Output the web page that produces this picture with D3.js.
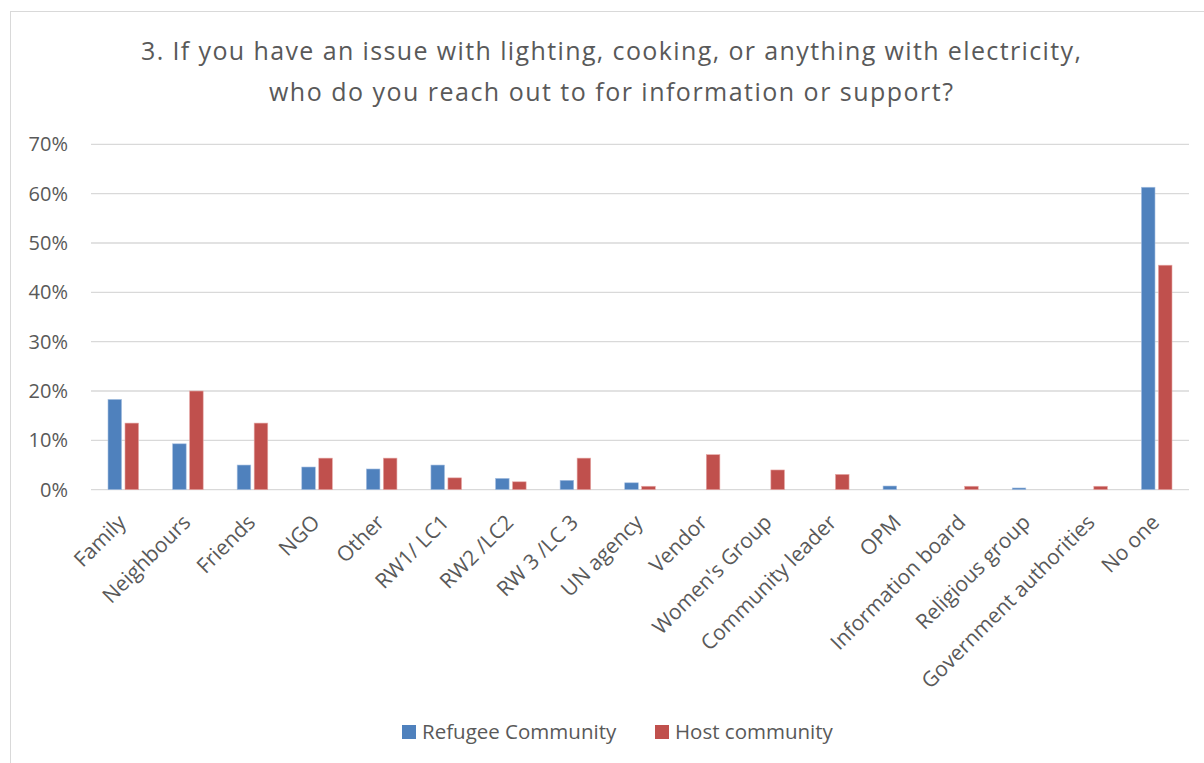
<!DOCTYPE html>
<html>
<head>
<meta charset="utf-8">
<script src="https://cdn.jsdelivr.net/npm/d3@7"></script>
<style>
  html, body { margin: 0; padding: 0; background: #ffffff; }
  svg { display: block; }
</style>
</head>
<body>
<svg id="chart" width="1204" height="763"></svg>
<script>
// Survey question 3: sources of help for electricity issues
const categories = [
  "Family", "Neighbours", "Friends", "NGO", "Other", "RW1/ LC1", "RW2 /LC2",
  "RW 3 /LC 3", "UN agency", "Vendor", "Women's Group", "Community leader",
  "OPM", "Information board", "Religious group", "Government authorities", "No one"
];
const refugeeValues = [18.3, 9.3, 5.0, 4.6, 4.2, 5.0, 2.3, 1.9, 1.4, 0, 0, 0, 0.75, 0, 0.35, 0, 61.3];
const hostValues    = [13.5, 20.0, 13.5, 6.4, 6.4, 2.4, 1.6, 6.4, 0.7, 7.1, 4.0, 3.1, 0, 0.7, 0, 0.7, 45.5];
const seriesNames = ["Refugee Community", "Host community"];
const seriesColors = ["#4F81BD", "#C0504D"];
const yTicks = [0, 10, 20, 30, 40, 50, 60, 70];
const titleLines = [
  "3. If you have an issue with lighting, cooking, or anything with electricity,",
  "who do you reach out to for information or support?"
];

const svg = d3.select("#chart");
const W = 1204, H = 763;
const plot = { left: 91, right: 1189, top: 144.3, bottom: 489.7 };
const FONT = "'Open Sans', sans-serif";

// chart frame
svg.append("rect")
  .attr("x", 10.5).attr("y", 11.5)
  .attr("width", W).attr("height", H)
  .attr("fill", "#fff").attr("stroke", "#d9d9d9").attr("stroke-width", 1);

// title, two centred lines spread to the title block width
const titleSpecs = [
  { y: 60, len: 940 },
  { y: 101, len: 684 }
];
titleLines.forEach((t, i) => {
  svg.append("text")
    .attr("x", 611).attr("y", titleSpecs[i].y)
    .attr("text-anchor", "middle")
    .attr("fill", "#595959")
    .attr("textLength", titleSpecs[i].len)
    .attr("lengthAdjust", "spacing")
    .style("font-family", FONT)
    .style("font-size", "25px")
    .text(t);
});

const x = d3.scaleBand().domain(categories).range([plot.left, plot.right]).paddingInner(0).paddingOuter(0);
const y = d3.scaleLinear().domain([0, 70]).range([plot.bottom, plot.top]);
const xSub = d3.scaleBand().domain(seriesNames).range([0, x.bandwidth()]).paddingInner(0.2).paddingOuter(1.0);

// gridlines
svg.append("g")
  .selectAll("line")
  .data(yTicks)
  .join("line")
  .attr("x1", plot.left).attr("x2", plot.right)
  .attr("y1", d => y(d)).attr("y2", d => y(d))
  .attr("stroke", "#d9d9d9").attr("stroke-width", 1.3);

// y axis labels
const yAxis = d3.axisLeft(y).tickValues(yTicks).tickFormat(d => d + "%").tickSize(0).tickPadding(0);
const yG = svg.append("g").attr("transform", `translate(68,0)`).call(yAxis);
yG.select(".domain").remove();
yG.selectAll("text")
  .attr("fill", "#595959")
  .style("font-family", FONT)
  .style("font-size", "20px");

// bars
const rows = categories.map((c, i) => ({ cat: c, vals: [refugeeValues[i], hostValues[i]] }));
const groups = svg.append("g").selectAll("g")
  .data(rows)
  .join("g")
  .attr("transform", d => `translate(${x(d.cat)},0)`);
groups.selectAll("rect")
  .data(d => d.vals.map((v, k) => ({ v, k })))
  .join("rect")
  .attr("x", d => xSub(seriesNames[d.k]))
  .attr("width", xSub.bandwidth())
  .attr("y", d => y(d.v))
  .attr("height", d => y(0) - y(d.v))
  .attr("fill", d => seriesColors[d.k])
  .attr("stroke", d => d.v > 0 ? (d.k === 0 ? "#a9c1e2" : "#e6a9a7") : "none")
  .attr("stroke-width", 0.6);

// x axis labels, rotated 45 degrees
const xAxis = d3.axisBottom(x).tickSize(0).tickPadding(0);
const xG = svg.append("g").attr("transform", `translate(0,${plot.bottom})`).call(xAxis);
xG.select(".domain").remove();
xG.selectAll("text")
  .attr("fill", "#595959")
  .style("font-family", FONT)
  .style("font-size", "21px")
  .attr("text-anchor", "end")
  .attr("dy", null)
  .attr("y", 0)
  .attr("transform", "translate(4,34) rotate(-45)");

// legend
const legend = svg.append("g").attr("transform", "translate(402,725)");
const legX = [0, 253];
seriesNames.forEach((n, i) => {
  const g = legend.append("g").attr("transform", `translate(${legX[i]},0)`);
  g.append("rect").attr("width", 14).attr("height", 14).attr("fill", seriesColors[i]);
  g.append("text").attr("x", 20).attr("y", 14)
    .attr("fill", "#595959")
    .style("font-family", FONT)
    .style("font-size", "20.5px")
    .text(n);
});
</script>
</body>
</html>
